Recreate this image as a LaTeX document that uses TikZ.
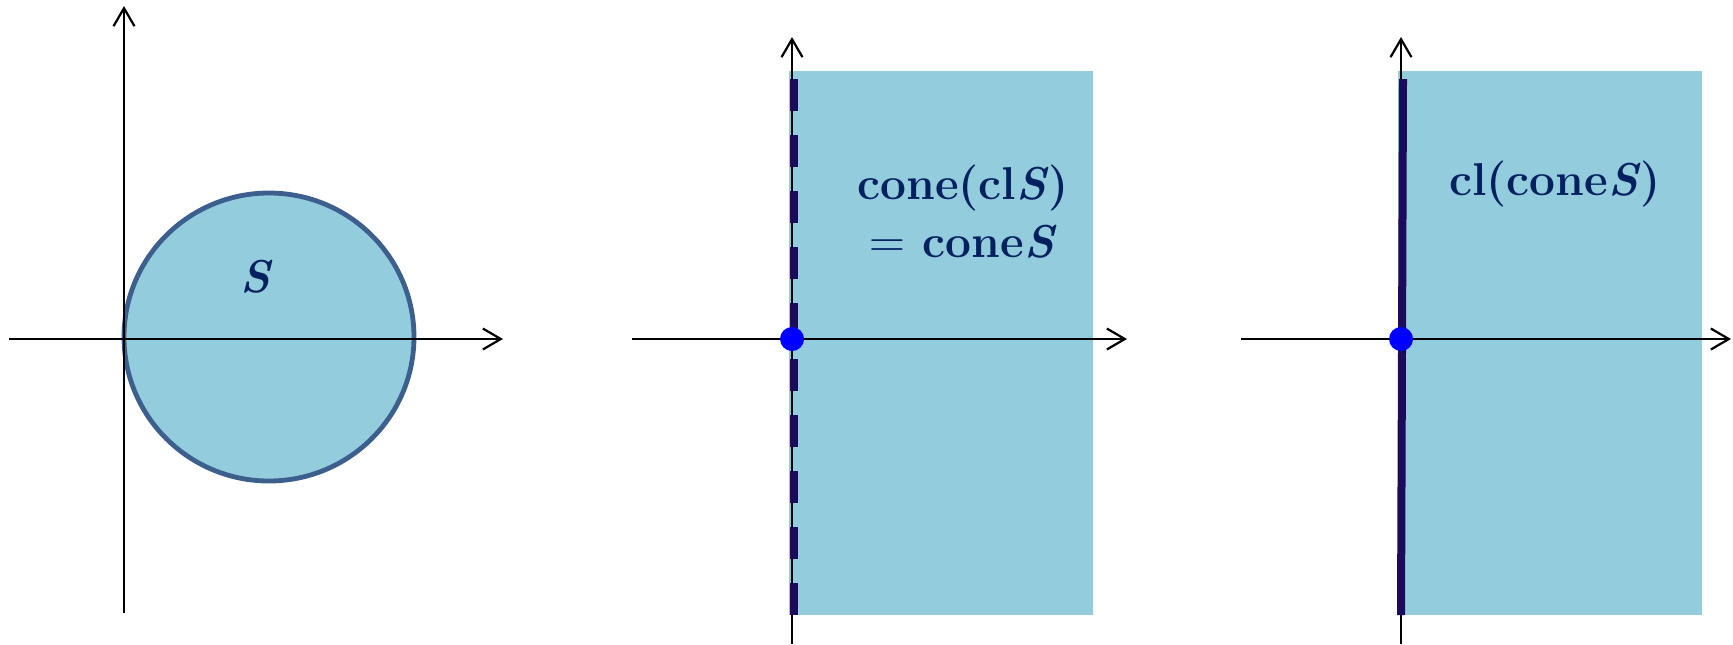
\documentclass[tikz,border=0pt]{standalone}
\usepackage{fontspec}
\usepackage{xcolor}
\usetikzlibrary{arrows.meta}
\definecolor{regionBlue}{HTML}{93CCDD}
\definecolor{edgeBlue}{HTML}{3C5F8E}
\definecolor{labelNavy}{HTML}{002060}
\definecolor{rayIndigo}{HTML}{1C0B5B}

\begin{document}
\begin{tikzpicture}[
    x=0.5pt, y=-0.5pt,
    axisStyle/.style={-{Straight Barb[length=9pt,width=10.5pt]}, line width=1.1pt, draw=black},
    regionStyle/.style={fill=regionBlue, draw=none},
    boundaryStyle/.style={fill=regionBlue, draw=edgeBlue, line width=2.4pt},
    rayStyle/.style={draw=rayIndigo, line width=4pt},
    dotStyle/.style={circle, fill=blue, inner sep=0pt, minimum size=12pt},
    labelStyle/.style={text=labelNavy, font=\fontsize{23}{29}\selectfont\bfseries, align=center, inner sep=0pt}
]
    \useasboundingbox (0,0) rectangle (1733,644);

    % left: the set S
    \draw[boundaryStyle] (269,337) ellipse [x radius=72.5pt, y radius=72pt];
    \draw[axisStyle] (124,613) -- (124,6);
    \draw[axisStyle] (9,339) -- (503,339);
    \node[labelStyle, anchor=base] (sLabel) at (255,292) {\itshape S};

    % middle: cone of the closure
    \fill[regionStyle] (789,71) rectangle (1093,615);
    \draw[axisStyle] (792,644) -- (792,37);
    \draw[axisStyle] (632,339) -- (1127,339);
    \draw[rayStyle, dash pattern=on 16pt off 12pt] (794,79) -- (794,615);
    \node[dotStyle] (originMid) at (792,339) {};
    \node[labelStyle] (coneLabel) at (963,212) {cone(cl\textit{S})\\ $=$ cone\textit{S}};

    % right: closure of the cone
    \fill[regionStyle] (1398,71) rectangle (1702,615);
    \draw[axisStyle] (1401,644) -- (1401,37);
    \draw[axisStyle] (1241,339) -- (1731,339);
    \draw[rayStyle] (1403,79) -- (1401,615);
    \node[dotStyle] (originRight) at (1401,339) {};
    \node[labelStyle, anchor=base] (clLabel) at (1555,195) {cl(cone\textit{S})};
\end{tikzpicture}
\end{document}
